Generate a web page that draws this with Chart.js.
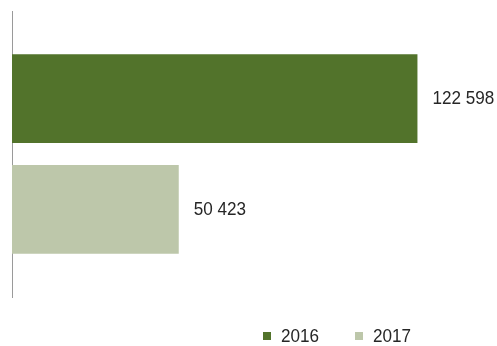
<!DOCTYPE html>
<html>
<head>
<meta charset="utf-8">
<script src="https://cdn.jsdelivr.net/npm/chart.js@4/dist/chart.umd.min.js"></script>
<style>
  html, body { margin: 0; padding: 0; background: #fff; }
  #wrap { width: 497px; height: 346px; }
</style>
</head>
<body>
<div id="wrap"><canvas id="chart"></canvas></div>
<script>
const categories = [''];
const years = ['2016', '2017'];
const values2016 = [122598];
const values2017 = [50423];
const colors = ['#52732b', '#bdc7aa'];

const fmt = v => String(v).replace(/\B(?=(\d{3})+(?!\d))/g, ' ');
const FONT = '19px "Liberation Sans", Arial, sans-serif';
const TEXT = '#262626';

// value labels to the right of each bar, slightly condensed like the original
const valueLabels = {
    id: 'valueLabels',
    afterDatasetsDraw(chart) {
        const ctx = chart.ctx;
        ctx.save();
        ctx.font = FONT;
        ctx.fillStyle = TEXT;
        ctx.textBaseline = 'middle';
        chart.data.datasets.forEach((ds, i) => {
            chart.getDatasetMeta(i).data.forEach((bar, j) => {
                ctx.save();
                ctx.translate(bar.x + 15, bar.y);
                ctx.scale(0.9, 1);
                ctx.fillText(fmt(ds.data[j]), 0, 0);
                ctx.restore();
            });
        });
        ctx.restore();
    }
};

// legend drawn by hand so it can sit bottom-right
const legendRight = {
    id: 'legendRight',
    afterDraw(chart) {
        const ctx = chart.ctx;
        ctx.save();
        ctx.font = FONT;
        ctx.textBaseline = 'middle';
        const y = chart.height - 10;
        let x = 263;
        chart.data.datasets.forEach(ds => {
            ctx.fillStyle = ds.backgroundColor;
            ctx.fillRect(x, y - 4, 8, 8);
            ctx.fillStyle = TEXT;
            ctx.save();
            ctx.translate(x + 18, y + 1);
            ctx.scale(0.9, 1);
            ctx.fillText(ds.label, 0, 0);
            ctx.restore();
            x += 92;
        });
        ctx.restore();
    }
};

new Chart(document.getElementById('chart'), {
    type: 'bar',
    data: {
        labels: categories,
        datasets: [
            { label: years[0], data: values2016, backgroundColor: colors[0] },
            { label: years[1], data: values2017, backgroundColor: colors[1] }
        ]
    },
    options: {
        indexAxis: 'y',
        responsive: true,
        maintainAspectRatio: false,
        animation: false,
        categoryPercentage: 0.776,
        barPercentage: 0.8,
        layout: { padding: { left: 4, right: 22, top: 11, bottom: 49 } },
        scales: {
            x: { display: false, min: 0, max: 140000 },
            y: {
                z: 1,
                grid: { display: false },
                ticks: { display: false },
                border: { display: true, color: '#9a9a9a', width: 1 }
            }
        },
        plugins: {
            legend: { display: false },
            tooltip: { enabled: false }
        }
    },
    plugins: [valueLabels, legendRight]
});
</script>
</body>
</html>
